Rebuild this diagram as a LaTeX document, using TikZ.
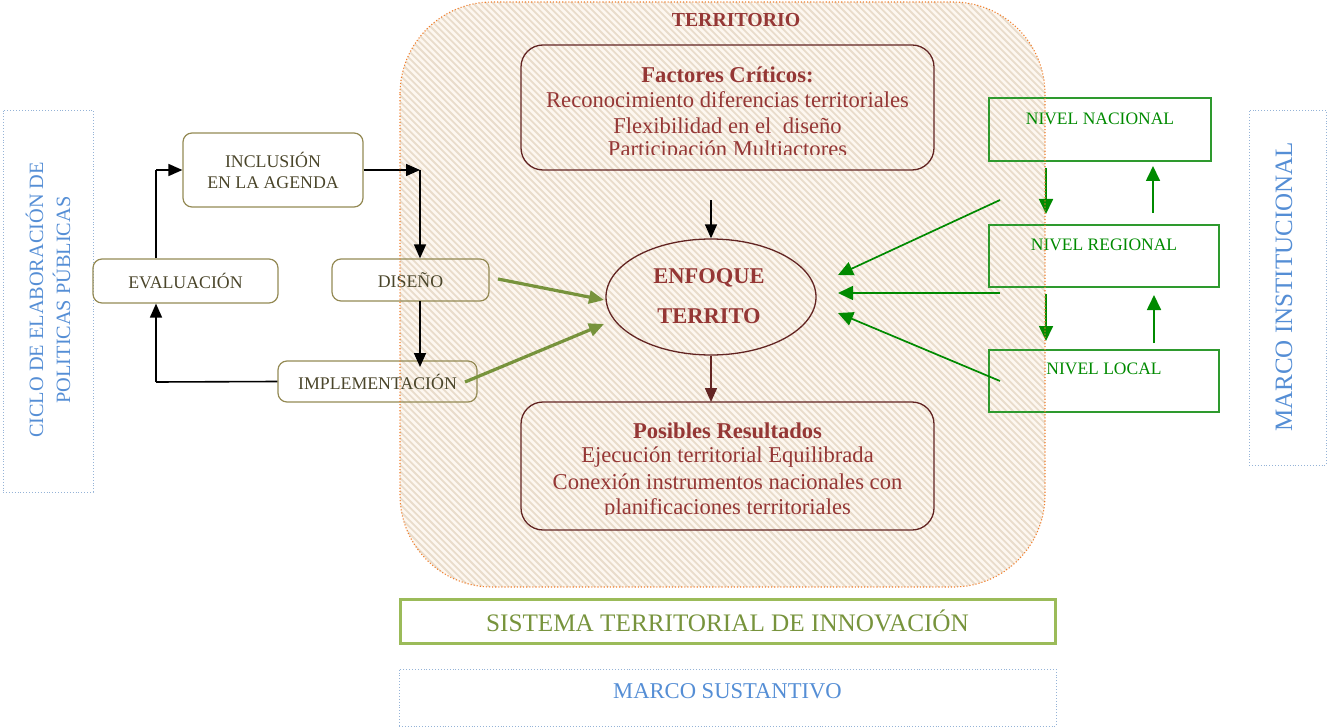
\documentclass[tikz,border=0pt]{standalone}
\usepackage{fontspec}
\setmainfont{Liberation Serif}
\usetikzlibrary{arrows.meta,shapes.geometric}

\definecolor{terrtext}{HTML}{953735}
\definecolor{terrline}{HTML}{632523}
\definecolor{olive}{HTML}{948A54}
\definecolor{olivetext}{HTML}{4A452A}
\definecolor{nivel}{HTML}{008A00}
\definecolor{nivelbox}{HTML}{2E9A2E}
\definecolor{leaf}{HTML}{77933C}
\definecolor{leafbox}{HTML}{9BBB59}
\definecolor{marco}{HTML}{558ED5}
\definecolor{marcoline}{HTML}{95B3D7}
\definecolor{orangeline}{HTML}{F07D2A}
\definecolor{cream}{HTML}{FDF7F0}
\definecolor{hatch}{HTML}{E9DCCB}

\tikzset{
  cyclebox/.style={draw=olive, line width=1.2pt, rounded corners=9pt, text=olivetext, font=\fontsize{17.8}{21}\selectfont, align=center, inner sep=0pt},
  critbox/.style={draw=terrline, line width=1.3pt, rounded corners=22pt},
  nivelbox/.style={draw=nivelbox, line width=1.1pt},
  niveltext/.style={text=nivel, font=\fontsize{17.5}{20}\selectfont},
  framebox/.style={draw=marcoline, line width=0.9pt, dotted},
  frametext/.style={text=marco},
  blackarrow/.style={-{Triangle[length=14pt,width=12pt]}, line width=1.6pt},
  greenarrow/.style={nivel, -{Triangle[length=15pt,width=14pt]}, line width=1.7pt},
  leafarrow/.style={leaf, -{Triangle[length=15pt,width=13pt]}, line width=3.2pt},
  redtext/.style={text=terrtext, font=\fontsize{22.6}{25}\selectfont},
  redbold/.style={text=terrtext, font=\fontsize{22.6}{25}\selectfont\bfseries},
  hatchline/.style={draw=hatch, line width=1.8pt},
}

\begin{document}
\begin{tikzpicture}[x=1pt,y=-1pt]
\useasboundingbox (0,0) rectangle (1327,727);

% hatched territory area
\begin{scope}
  \clip[rounded corners=92pt] (400,2) rectangle (1045,587);
  \fill[cream] (400,2) rectangle (1045,587);
  \foreach \i in {0,...,192}
    \draw[hatchline] ({-190+\i*6.6},0) -- ++(590,590);
\end{scope}

% side and bottom frames
\node[framebox, minimum width=90pt, minimum height=382pt] (ciclo) at (48,301) {};
\node[frametext, rotate=90, align=center, font=\fontsize{20.3}{27}\selectfont] (ciclot) at (48,300) {CICLO DE ELABORACIÓN DE\\POLITICAS PÚBLICAS};
\node[framebox, minimum width=77pt, minimum height=355pt] (marcoi) at (1287.5,287.5) {};
\node[frametext, rotate=90, font=\fontsize{25}{28}\selectfont] (marcoit) at (1284,287) {MARCO INSTITUCIONAL};
\node[framebox, minimum width=657pt, minimum height=57pt] (marcos) at (727.5,697.5) {};
\node[frametext, font=\fontsize{22.6}{26}\selectfont] (marcost) at (727.5,691) {MARCO SUSTANTIVO};

% innovation system bar
\node[draw=leafbox, line width=3pt, minimum width=655pt, minimum height=44pt, text=leaf, font=\fontsize{25.2}{30}\selectfont] (sti) at (727.5,621) {SISTEMA TERRITORIAL DE INNOVACIÓN};

% policy cycle
\node[cyclebox, minimum width=180pt, minimum height=74pt] (inc) at (273,170) {INCLUSIÓN\\EN LA AGENDA};
\node[cyclebox, minimum width=185pt, minimum height=44pt] (eva) at (185.5,281) {EVALUACIÓN};
\node[cyclebox, minimum width=157pt, minimum height=42pt] (dis) at (410.5,280) {DISEÑO};
\node[cyclebox, minimum width=199pt, minimum height=41pt] (imp) at (377.5,381.5) {IMPLEMENTACIÓN};

\coordinate (evaup) at (156,170);
\coordinate (turn) at (420,170);
\coordinate (disbot) at (420,301);
\coordinate (impin) at (420,361);
\coordinate (evaback) at (156,382);
\draw[line width=1.6pt] (eva.north -| evaup) -- (evaup);
\draw[blackarrow] (evaup) -- (inc.west);
\draw[blackarrow] (inc.east) -- (turn);
\draw[blackarrow] (turn) -- (turn |- dis.north);
\draw[blackarrow] (disbot) -- ([yshift=-6pt]impin);
\draw[line width=1.6pt] (imp.west) -- (evaback);
\draw[blackarrow] (evaback) -- (eva.south -| evaback);

% central elements
\node[text=terrtext, font=\fontsize{19.8}{22}\selectfont\bfseries] (terr) at (736,20) {TERRITORIO};

\draw[critbox] (521,45) rectangle (934,170);
\coordinate (fac) at (727.5,45);
\begin{scope}
  \clip (521,45) rectangle (934,155);
  \node[redbold] (fact) at (727.5,75) {Factores Críticos:};
  \node[redtext] (f1) at (727.5,100) {Reconocimiento diferencias territoriales};
  \node[redtext] (f2) at (727.5,126) {Flexibilidad en el\ \ diseño};
  \node[redtext] (f3) at (727.5,151) {Participación Multiactores};
\end{scope}

\draw[critbox] (521,402) rectangle (934,530);
\coordinate (res) at (727.5,402);
\begin{scope}
  \clip (521,402) rectangle (934,514);
  \node[redbold] (rest) at (727.5,431) {Posibles Resultados};
  \node[redtext] (r1) at (727.5,457) {Ejecución territorial Equilibrada};
  \node[redtext] (r2) at (727.5,482) {Conexión instrumentos nacionales con};
  \node[redtext] (r3) at (727.5,509) {planificaciones territoriales};
\end{scope}

\node[draw=terrline, line width=1.3pt, ellipse, minimum width=210pt, minimum height=116pt] (enf) at (711,297) {};
\node[text=terrtext, font=\fontsize{22.5}{24}\selectfont\bfseries] (enf1) at (709,278) {ENFOQUE};
\node[text=terrtext, font=\fontsize{22.5}{24}\selectfont\bfseries] (enf2) at (709,316) {TERRITO};

\coordinate (facout) at (711,200);
\draw[blackarrow] (facout) -- (enf.north);
\draw[blackarrow, draw=terrline, fill=terrline] (enf.south) -- (res -| enf.south);

\coordinate (disout) at (498,279);
\coordinate (impout) at (465,382);
\draw[leafarrow] (disout) -- (604,300);
\draw[leafarrow] (impout) -- (604,324);

% institutional levels
\draw[nivelbox] (989,98) rectangle (1211,161);
\node[niveltext] (nac) at (1100,119) {NIVEL NACIONAL};
\draw[nivelbox] (989,225) rectangle (1219,287);
\node[niveltext] (reg) at (1104,245) {NIVEL REGIONAL};
\draw[nivelbox] (989,350) rectangle (1219,412);
\node[niveltext] (loc) at (1104,369) {NIVEL LOCAL};

\draw[greenarrow] (1046,168) -- (1046,214);
\draw[greenarrow] (1153,213) -- (1153,166);
\draw[greenarrow] (1046,294) -- (1046,341);
\draw[greenarrow] (1154,343) -- (1154,295);

\coordinate (nacout) at (1000,200);
\coordinate (regout) at (1000,293);
\coordinate (locout) at (1000,381);
\draw[greenarrow] (nacout) -- (838,275);
\draw[greenarrow] (regout) -- (838,293);
\draw[greenarrow] (locout) -- (838,313);

% dotted outline of the territory
\draw[orangeline, line width=1.1pt, dotted, rounded corners=92pt] (400,2) rectangle (1045,587);
\end{tikzpicture}
\end{document}
